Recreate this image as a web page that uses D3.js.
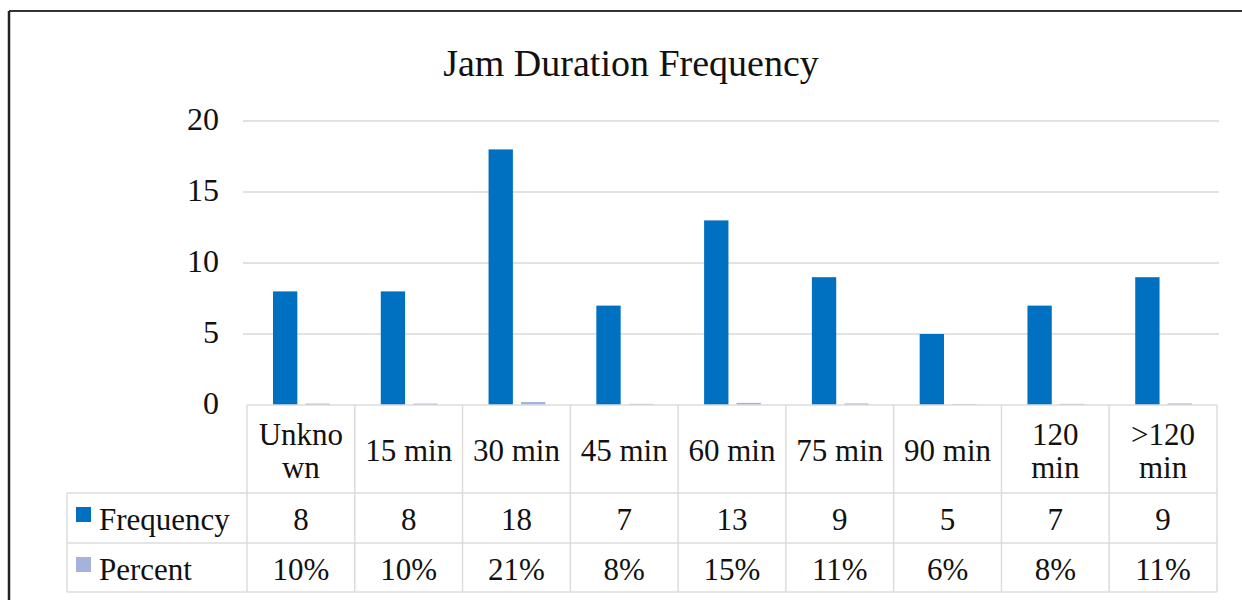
<!DOCTYPE html>
<html>
<head>
<meta charset="utf-8">
<script src="https://cdn.jsdelivr.net/npm/d3@7"></script>
<style>
  body { margin: 0; background: #fff; }
  svg text { font-family: "Liberation Serif", "Times New Roman", serif; fill: #111; }
</style>
</head>
<body>
<svg id="drawing_region"></svg>
<script>
// chart data
const categories = ["Unknown", "15 min", "30 min", "45 min", "60 min", "75 min", "90 min", "120 min", ">120 min"];
const categoryLines = [["Unkno", "wn"], ["15 min"], ["30 min"], ["45 min"], ["60 min"], ["75 min"], ["90 min"], ["120", "min"], [">120", "min"]];
const frequency = [8, 8, 18, 7, 13, 9, 5, 7, 9];
const percent = [0.10, 0.10, 0.21, 0.08, 0.15, 0.11, 0.06, 0.08, 0.11];
const percentLabels = ["10%", "10%", "21%", "8%", "15%", "11%", "6%", "8%", "11%"];
const seriesNames = ["Frequency", "Percent"];
const seriesColors = ["#0070c0", "#a3b3db"];
const yTicks = [0, 5, 10, 15, 20];

const width = 1242, height = 600;
const fontSize = 31;
const svg = d3.select('#drawing_region')
    .attr('width', width)
    .attr('height', height);

// outer frame (top and left edges visible)
svg.append('line').attr('x1', 9).attr('x2', width).attr('y1', 11).attr('y2', 11)
    .attr('stroke', '#333').attr('stroke-width', 2);
svg.append('line').attr('x1', 9).attr('x2', 9).attr('y1', 11).attr('y2', height)
    .attr('stroke', '#222').attr('stroke-width', 2.5);

svg.append('text')
    .attr('x', 631).attr('y', 76)
    .attr('text-anchor', 'middle')
    .attr('font-size', 38)
    .text('Jam Duration Frequency');

const plotLeft = 247, plotRight = 1217;
const gridLeft = 243, gridRight = 1219;

const xscale = d3.scaleBand()
    .domain(categories)
    .range([plotLeft, plotRight])
    .paddingInner(0).paddingOuter(0);

const yscale = d3.scaleLinear()
    .domain([0, 20])
    .range([405, 121]);

const subscale = d3.scaleBand()
    .domain(seriesNames)
    .range([26, xscale.bandwidth() - 25])
    .paddingInner(0.25);

// gridlines
svg.append('g').selectAll('line')
    .data(yTicks.slice(1))
    .join('line')
    .attr('x1', gridLeft).attr('x2', gridRight)
    .attr('y1', d => yscale(d)).attr('y2', d => yscale(d))
    .attr('stroke', '#d9d9d9').attr('stroke-width', 1.5);

// y axis labels
const yaxis = d3.axisLeft(yscale).tickValues(yTicks).tickSize(0).tickPadding(0);
const yg = svg.append('g').attr('transform', 'translate(219,0)').call(yaxis);
yg.select('.domain').remove();
yg.selectAll('text')
    .attr('font-size', 32)
    .attr('font-family', '"Liberation Serif", serif')
    .attr('fill', '#111')
    .attr('dy', '0.25em');

// bars
const groups = svg.append('g').selectAll('g')
    .data(categories)
    .join('g')
    .attr('transform', d => `translate(${xscale(d)},0)`);

groups.append('rect')
    .attr('x', subscale('Frequency'))
    .attr('width', subscale.bandwidth())
    .attr('y', (d, i) => yscale(frequency[i]))
    .attr('height', (d, i) => yscale(0) - yscale(frequency[i]))
    .attr('fill', seriesColors[0]);

groups.append('rect')
    .attr('x', subscale('Percent'))
    .attr('width', subscale.bandwidth())
    .attr('y', (d, i) => yscale(percent[i]))
    .attr('height', (d, i) => yscale(0) - yscale(percent[i]))
    .attr('fill', seriesColors[1]);

// data table
const tableTop = 405, headBottom = 493, row1Bottom = 543, row2Bottom = 592;
const legendLeft = 67;
const lineColor = '#dcdcdc';
const table = svg.append('g');

table.append('line').attr('x1', plotLeft).attr('x2', plotRight).attr('y1', tableTop).attr('y2', tableTop)
    .attr('stroke', lineColor).attr('stroke-width', 1.5);
[headBottom, row1Bottom, row2Bottom].forEach(y => {
    table.append('line').attr('x1', legendLeft).attr('x2', plotRight).attr('y1', y).attr('y2', y)
        .attr('stroke', lineColor).attr('stroke-width', 1.5);
});
table.append('line').attr('x1', legendLeft).attr('x2', legendLeft).attr('y1', headBottom).attr('y2', row2Bottom)
    .attr('stroke', lineColor).attr('stroke-width', 1.5);

const bounds = categories.map(c => xscale(c)).concat([plotRight]);
table.selectAll('.vline')
    .data(bounds)
    .join('line')
    .attr('class', 'vline')
    .attr('x1', d => d).attr('x2', d => d)
    .attr('y1', tableTop).attr('y2', row2Bottom)
    .attr('stroke', lineColor).attr('stroke-width', 1.5);

// header labels
const head = table.selectAll('.head')
    .data(categories)
    .join('text')
    .attr('class', 'head')
    .attr('text-anchor', 'middle')
    .attr('font-size', fontSize)
    .attr('x', d => xscale(d) + xscale.bandwidth() / 2)
    .attr('y', (d, i) => categoryLines[i].length > 1 ? 445 : 461);
head.each(function (d, i) {
    d3.select(this).selectAll('tspan')
        .data(categoryLines[i])
        .join('tspan')
        .attr('x', xscale(d) + xscale.bandwidth() / 2)
        .attr('dy', (t, j) => j === 0 ? 0 : 33)
        .text(t => t);
});

table.selectAll('.freq')
    .data(categories)
    .join('text')
    .attr('class', 'freq')
    .attr('text-anchor', 'middle')
    .attr('font-size', fontSize)
    .attr('x', d => xscale(d) + xscale.bandwidth() / 2)
    .attr('y', 530)
    .text((d, i) => frequency[i]);

table.selectAll('.pct')
    .data(categories)
    .join('text')
    .attr('class', 'pct')
    .attr('text-anchor', 'middle')
    .attr('font-size', fontSize)
    .attr('x', d => xscale(d) + xscale.bandwidth() / 2)
    .attr('y', 580)
    .text((d, i) => percentLabels[i]);

// legend keys in table
const rowY = [518, 568];
seriesNames.forEach((name, i) => {
    table.append('rect')
        .attr('x', 76).attr('y', rowY[i] - 11)
        .attr('width', 15).attr('height', 15)
        .attr('fill', seriesColors[i]);
    table.append('text')
        .attr('x', 99).attr('y', rowY[i] + 12)
        .attr('font-size', fontSize)
        .text(name);
});
</script>
</body>
</html>
